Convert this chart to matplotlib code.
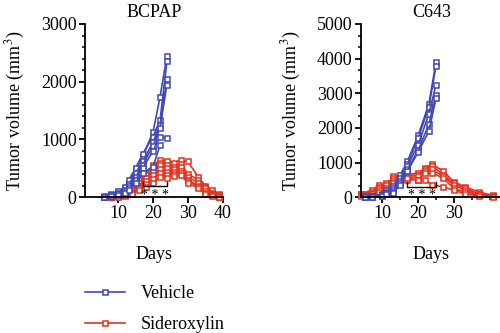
import numpy as np
import matplotlib
matplotlib.use("Agg")
import matplotlib.pyplot as plt
from matplotlib.ticker import AutoMinorLocator, MultipleLocator
from matplotlib.lines import Line2D

plt.rcParams['font.family'] = ['Liberation Serif', 'DejaVu Serif']
plt.rcParams['mathtext.fontset'] = 'stix'

BLUE = '#4249b4'
RED = '#e2331f'

# BCPAP
bcpap_veh_days = [6, 8, 10, 12, 13, 15, 17, 20, 22, 24]
bcpap_veh = [
    [10, 40, 80, 150, 250, 480, 700, 1130, 1730, 2450],
    [10, 50, 100, 180, 300, 500, 750, 1050, 1330, 2350],
    [15, 30, 70, 120, 220, 420, 620, 950, 1250, 2050],
    [5, 25, 60, 100, 200, 350, 560, 880, 1200, 1950],
    [10, 30, 50, 80, 150, 300, 500, 800, 1050, 1020],
    [5, 20, 40, 70, 120, 250, 420, 530, 900, np.nan],
]
bcpap_sid_days = [6, 8, 10, 12, 14, 16, 18, 20, 22, 24, 26, 28, 30, 33, 35, 37, 39]
bcpap_sid = [
    [5, 15, 30, 60, 180, 300, 420, 550, 650, 630, 600, 640, 620, 350, 200, 120, 50],
    [5, 10, 25, 50, 150, 250, 380, 500, 600, 560, 520, 580, 400, 300, 180, 80, 30],
    [5, 10, 20, 40, 120, 200, 330, 450, 550, 500, 480, 520, 350, 250, 150, 60, 20],
    [5, 10, 20, 30, 100, 180, 280, 380, 480, 440, 430, 460, 300, 200, 100, 40, 10],
    [5, 10, 15, 30, 80, 150, 220, 320, 420, 380, 400, 420, 280, 180, 80, 30, 5],
    [5, 5, 10, 20, 60, 120, 180, 250, 350, 330, 370, 380, 250, 150, 60, 20, 5],
]

# C643
c643_veh_days = [5, 7, 10, 11, 13, 15, 17, 20, 23, 25]
c643_veh = [
    [20, 30, 80, 200, 320, 650, 1030, 1780, 2680, 3900],
    [10, 20, 60, 150, 250, 550, 950, 1700, 2600, 3780],
    [20, 20, 50, 120, 200, 480, 900, 1500, 2400, 3250],
    [10, 15, 40, 100, 150, 400, 800, 1350, 2100, 2950],
    [10, 10, 30, 80, 120, 350, 750, 1300, 1900, 2850],
]
c643_sid_days = [4, 7, 9, 11, 13, 17, 20, 22, 24, 27, 30, 33, 37, 41]
c643_sid = [
    [100, 200, 350, 300, 600, 650, 700, 850, 950, 750, 450, 300, 150, 50],
    [80, 150, 300, 400, 550, 600, 650, 800, 900, 650, 400, 250, 100, 40],
    [60, 120, 250, 350, 500, 550, 600, 750, 800, 600, 350, 200, 80, 30],
    [50, 100, 200, 250, 450, 500, 500, 700, 700, 550, 250, 150, 50, 20],
    [40, 80, 150, 200, 400, 550, 500, 500, 350, 300, 200, 100, 30, 10],
]

panels = [
    dict(title='BCPAP', veh_days=bcpap_veh_days, veh=bcpap_veh,
         sid_days=bcpap_sid_days, sid=bcpap_sid, xlim=(0.4, 40), ylim=(0, 3000),
         xticks=[10, 20, 30, 40], yminor=5, xminor=None,
         bracket=(17, 24, 190), stars=(20.5, 140)),
    dict(title='C643', veh_days=c643_veh_days, veh=c643_veh,
         sid_days=c643_sid_days, sid=c643_sid, xlim=(4, 43.5), ylim=(0, 5000),
         xticks=[10, 20, 30], yminor=3, xminor=2,
         bracket=(17, 25, 300), stars=(21, 230)),
]

fig = plt.figure(figsize=(5, 3.33), dpi=100)
positions = [[0.17, 0.408, 0.275, 0.52], [0.722, 0.408, 0.282, 0.52]]

style = dict(marker='s', markersize=3.6, markerfacecolor='white',
             markeredgewidth=1.1, linewidth=1.2, clip_on=False)

for p, pos in zip(panels, positions):
    ax = fig.add_axes(pos)
    for ys in p['sid']:
        ax.plot(p['sid_days'], ys, color=RED, markeredgecolor=RED, **style)
    for ys in p['veh']:
        ax.plot(p['veh_days'], ys, color=BLUE, markeredgecolor=BLUE, **style)

    ax.set_xlim(*p['xlim'])
    ax.set_ylim(*p['ylim'])
    ax.set_xticks(p['xticks'])
    ax.yaxis.set_major_locator(MultipleLocator(1000))
    ax.yaxis.set_minor_locator(AutoMinorLocator(p['yminor']))
    if p['xminor']:
        ax.xaxis.set_minor_locator(AutoMinorLocator(p['xminor']))
    for s in ['top', 'right']:
        ax.spines[s].set_visible(False)
    for s in ['left', 'bottom']:
        ax.spines[s].set_linewidth(1.3)
    ax.tick_params(which='major', direction='out', length=4, width=1.3,
                   labelsize=13, pad=2)
    ax.tick_params(which='minor', direction='out', length=2.2, width=1.1)
    ax.set_title(p['title'], fontsize=13, pad=5)
    ax.set_xlabel('Days', fontsize=13, labelpad=17)
    ax.set_ylabel('Tumor volume (mm$^3$)', fontsize=13, labelpad=10)

    x0, x1, yb = p['bracket']
    h = p['ylim'][1] * 0.025
    ax.plot([x0, x0, x1, x1], [yb + h, yb, yb, yb + h], color='black', lw=1)
    ax.text(p['stars'][0], p['stars'][1], '* * *', fontsize=10,
            ha='center', va='top')

handles = [Line2D([], [], color=BLUE, marker='s', markersize=3.6,
                  markerfacecolor='white', markeredgecolor=BLUE,
                  markeredgewidth=1.1, linewidth=1.2),
           Line2D([], [], color=RED, marker='s', markersize=3.6,
                  markerfacecolor='white', markeredgecolor=RED,
                  markeredgewidth=1.1, linewidth=1.2)]
fig.legend(handles, ['Vehicle', 'Sideroxylin'], loc='upper left',
           bbox_to_anchor=(0.17, 0.143), frameon=False, fontsize=13,
           handlelength=2.2, handletextpad=0.9, labelspacing=0.75,
           borderpad=0, borderaxespad=0)

fig.savefig('out.png', dpi=100)
